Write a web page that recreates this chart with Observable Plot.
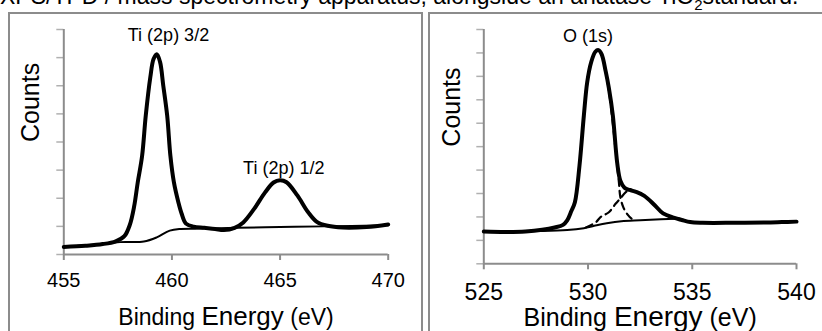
<!DOCTYPE html>
<html>
<head>
<meta charset="utf-8">
<script src="https://cdn.jsdelivr.net/npm/d3@7"></script>
<script src="https://cdn.jsdelivr.net/npm/@observablehq/plot@0.6"></script>
<style>
  html, body { margin: 0; padding: 0; background: #fff; }
  #page { position: relative; width: 822px; height: 331px; overflow: hidden; font-family: "Liberation Sans", Arial, sans-serif; }
  #cap { position: absolute; left: 0; top: -17.2px; width: 786px; font-size: 23px; white-space: nowrap; color: #000; text-align: justify; text-align-last: justify; }
  .box { position: absolute; top: 12px; height: 400px; border: 2px solid #8c8c8c; box-sizing: border-box; }
  #leftBox { left: 8px; width: 415px; }
  #rightBox { left: 428px; width: 500px; }
  .chart { position: absolute; top: 0; }
  #leftChart { left: 0; }
  #rightChart { left: 429px; }
</style>
</head>
<body>
<div id="page">
  <div id="cap">XPS/TPD / mass spectrometry apparatus, alongside an anatase TiO<sub style="font-size:15px">2</sub>standard.</div>
  <div class="box" id="leftBox"></div>
  <div class="box" id="rightBox"></div>
  <div class="chart" id="leftChart"></div>
  <div class="chart" id="rightChart"></div>
</div>
<script>
// ---------- Data (energies in eV, counts in arbitrary tick units) ----------
const tiTicksX = [455, 460, 465, 470];
const tiTicksY = [0, 1, 2, 3, 4, 5, 6, 7, 8];
const oTicksX = [525, 530, 535, 540];
const oTicksY = [0, 1, 2, 3, 4, 5, 6, 7, 8, 9, 10];

const tiSpectrum = [
  [455.0, 0.27], [456.0, 0.31], [456.8, 0.37], [457.4, 0.47], [457.8, 0.65],
  [458.05, 1.05], [458.25, 1.7], [458.42, 2.57], [458.62, 3.5], [458.79, 4.94],
  [459.0, 6.3], [459.15, 6.95], [459.3, 7.12], [459.45, 6.85], [459.6, 6.0],
  [459.78, 4.94], [459.93, 3.5], [460.09, 2.57], [460.3, 1.85], [460.45, 1.45],
  [460.65, 1.1], [461.0, 0.99], [461.5, 0.95], [462.0, 0.91], [462.4, 0.87],
  [462.9, 0.95], [463.3, 1.14], [463.8, 1.62], [464.3, 2.2], [464.7, 2.56],
  [465.0, 2.64], [465.3, 2.57], [465.8, 2.1], [466.3, 1.5], [466.7, 1.16],
  [467.2, 1.02], [467.9, 0.96], [469.0, 0.98], [470.0, 1.07]
];
const tiBackground = [
  [455.0, 0.27], [456.5, 0.36], [457.6, 0.44], [458.7, 0.46], [459.3, 0.61],
  [459.9, 0.85], [460.4, 0.91], [461.3, 0.92], [463.0, 0.95], [465.0, 0.98],
  [467.0, 1.0], [470.0, 1.04]
];
const tiLabels = [
  {e: 459.84, c: 7.79, t: "Ti (2p) 3/2"},
  {e: 465.17, c: 3.05, t: "Ti (2p) 1/2"}
];

const oSpectrum = [
  [525.0, 1.38], [526.0, 1.36], [527.0, 1.38], [527.8, 1.45], [528.4, 1.55],
  [528.8, 1.66], [529.0, 1.85], [529.2, 2.25], [529.37, 2.63], [529.59, 4.19],
  [529.8, 6.33], [529.96, 7.75], [530.15, 8.6], [530.35, 9.05], [530.5, 9.12],
  [530.65, 8.95], [530.85, 8.2], [531.0, 7.5], [531.19, 6.33], [531.4, 4.3],
  [531.55, 3.55], [531.75, 3.25], [532.0, 3.15], [532.3, 3.07], [532.7, 2.9],
  [533.2, 2.5], [533.6, 2.15], [534.1, 1.97], [534.5, 1.87], [534.9, 1.78],
  [535.5, 1.75], [537.0, 1.75], [538.5, 1.76], [539.3, 1.78], [540.0, 1.8]
];
const oBackground = [
  [525.0, 1.38], [527.5, 1.4], [529.0, 1.44], [529.8, 1.52], [530.3, 1.62],
  [530.9, 1.73], [531.6, 1.82], [532.5, 1.86], [533.5, 1.9], [534.4, 1.93]
];
const oLatticeFit = [
  [530.85, 8.2], [531.0, 7.4], [531.2, 5.9], [531.35, 4.6], [531.48, 3.5],
  [531.55, 2.85], [531.7, 2.4], [531.9, 2.1], [532.1, 1.92], [532.3, 1.86]
];
const oShoulderFit = [
  [529.9, 1.55], [530.36, 1.76], [530.6, 1.99], [531.0, 2.2], [531.32, 2.56],
  [531.56, 2.8], [531.8, 3.05], [532.0, 3.15], [532.3, 3.07], [532.7, 2.9],
  [533.2, 2.5], [533.6, 2.15], [534.1, 1.97]
];
const oLabels = [{e: 530.0, c: 9.71, t: "O (1s)"}];

const xTitle = "Binding Energy (eV)";
const yTitle = "Counts";

// ---------- Helpers ----------
const AXIS = "#8c8c8c";
const TICK = "#b0b0b0";
const FONT = "Liberation Sans, Arial, sans-serif";
const ex = d => d[0], cy = d => d[1];

function panel(o) {
  const svg = Plot.plot({
    width: o.width, height: 331,
    marginLeft: o.ml, marginRight: o.mr, marginTop: 29, marginBottom: o.mb,
    x: {domain: o.xDomain},
    y: {domain: o.yDomain},
    style: {background: "transparent", fontFamily: FONT, fontSize: o.tickFont + "px", color: "#000", overflow: "visible"},
    marks: [
      Plot.axisY({ticks: o.yTicks, tickSize: 7, tickFormat: () => "", stroke: TICK, strokeWidth: 1.5, label: null}),
      Plot.axisX({ticks: o.xTicks, tickSize: 6, tickPadding: o.tickPad, stroke: AXIS, strokeWidth: 2, label: null,
                  tickFormat: d => String(d), fontSize: o.tickFont, fill: "#000"}),
      Plot.ruleX([o.xDomain[0]], {stroke: AXIS, strokeWidth: 2}),
      Plot.ruleY([o.yDomain[0]], {stroke: AXIS, strokeWidth: 2}),
      ...o.lines,
      Plot.text(o.labels, {x: "e", y: "c", text: "t", fontSize: 18, fill: "#000"}),
      Plot.text([yTitle], {text: d => d, frameAnchor: "left", lineAnchor: "middle", rotate: -90, dx: o.yTitleDx, fontSize: 25, fill: "#000"}),
      Plot.text([xTitle], {text: d => d, frameAnchor: "bottom", lineAnchor: "middle", dy: o.xTitleDy, fontSize: o.xTitleFont, fill: "#000"})
    ]
  });
  // larger "Energy" word, as in the original
  d3.select(svg).selectAll("text").filter(function() { return this.textContent === xTitle; })
    .each(function() {
      const t = d3.select(this);
      t.text(null);
      t.append("tspan").text("Binding ");
      t.append("tspan").attr("font-size", o.xTitleFont + 3).text("Energy");
      t.append("tspan").text(" (eV)");
    });
  return svg;
}

const left = panel({
  width: 422, ml: 63.3, mr: 34.3, mb: 77,
  xDomain: [455, 470], yDomain: [0, 8], xTicks: tiTicksX, yTicks: tiTicksY,
  tickFont: 20, tickPad: 12.7, yTitleDx: -33.3, xTitleDy: 63.4, xTitleFont: 23,
  labels: tiLabels,
  lines: [
    Plot.line(tiBackground, {x: ex, y: cy, stroke: "#000", strokeWidth: 2, curve: "catmull-rom"}),
    Plot.line(tiSpectrum, {x: ex, y: cy, stroke: "#000", strokeWidth: 4, curve: "catmull-rom", strokeLinejoin: "round"})
  ]
});
document.getElementById("leftChart").appendChild(left);

const right = panel({
  width: 393, ml: 54.3, mr: 26, mb: 67.7,
  xDomain: [525, 540], yDomain: [0, 10], xTicks: oTicksX, yTicks: oTicksY,
  tickFont: 23, tickPad: 14, yTitleDx: -31.5, xTitleDy: 54, xTitleFont: 25,
  labels: oLabels,
  lines: [
    Plot.line(oBackground, {x: ex, y: cy, stroke: "#000", strokeWidth: 2, curve: "catmull-rom"}),
    Plot.line(oLatticeFit, {x: ex, y: cy, stroke: "#000", strokeWidth: 2.2, strokeDasharray: "7,5", curve: "catmull-rom"}),
    Plot.line(oShoulderFit, {x: ex, y: cy, stroke: "#000", strokeWidth: 2.2, strokeDasharray: "7,5", curve: "catmull-rom"}),
    Plot.line(oSpectrum, {x: ex, y: cy, stroke: "#000", strokeWidth: 4, curve: "catmull-rom", strokeLinejoin: "round"})
  ]
});
document.getElementById("rightChart").appendChild(right);
</script>
</body>
</html>
